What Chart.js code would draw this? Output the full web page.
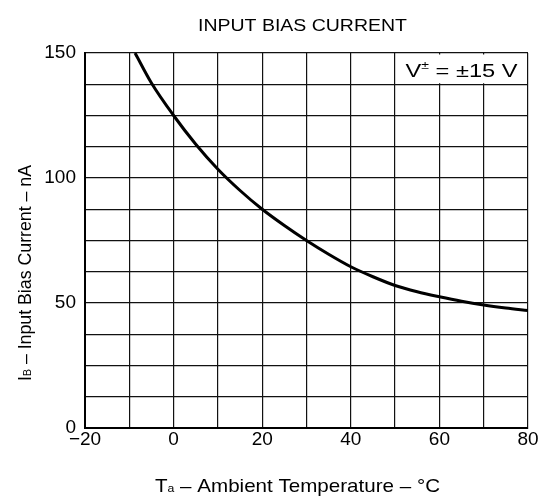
<!DOCTYPE html>
<html>
<head>
<meta charset="utf-8">
<script src="https://cdn.jsdelivr.net/npm/chart.js@4.4.1/dist/chart.umd.min.js"></script>
<style>
  html, body { margin: 0; padding: 0; background: #fff; }
  #wrap { width: 541px; height: 501px; }
</style>
</head>
<body>
<div id="wrap"><canvas id="bias-chart"></canvas></div>
<script>
// Input bias current vs ambient temperature
const temps = [-8.7, -5, 0, 5, 10, 15, 20, 25, 30, 35, 40, 45, 50, 55, 60, 65, 70, 75, 80];
const biasNA = [150, 138, 125, 113.5, 103.5, 95, 87.5, 81, 75, 69.5, 64.5, 60.5, 57, 54.5, 52.5, 50.7, 49.2, 48, 47];

const xTicks = [-20, 0, 20, 40, 60, 80];
const yTicks = [0, 50, 100, 150];

const FONT = '"Liberation Sans", Arial, Helvetica, sans-serif';

// draw a run of [text, size, dy] parts centred at 0, squeezed/stretched to a width
function drawParts(ctx, parts, width) {
    let total = 0;
    const ws = parts.map(p => {
        ctx.font = p[1] + 'px ' + FONT;
        const w = ctx.measureText(p[0]).width;
        total += w;
        return w;
    });
    ctx.scale(width / total, 1);
    let x = -total / 2;
    ctx.textAlign = 'left';
    ctx.textBaseline = 'alphabetic';
    parts.forEach((p, i) => {
        ctx.font = p[1] + 'px ' + FONT;
        ctx.fillText(p[0], x, p[2] || 0);
        x += ws[i];
    });
}

const annotations = {
    id: 'annotations',
    afterDraw(chart) {
        const ctx = chart.ctx;
        const xs = chart.scales.x, ys = chart.scales.y;
        ctx.save();
        ctx.fillStyle = '#000';

        // title
        ctx.save();
        ctx.translate(302.5, 31);
        drawParts(ctx, [['INPUT BIAS CURRENT', 16]], 209);
        ctx.restore();

        // x axis title
        ctx.save();
        ctx.translate(297.5, 492);
        drawParts(ctx, [['T', 18.5], ['a', 11], [' \u2013 Ambient Temperature \u2013 \u00b0C', 18.5]], 285);
        ctx.restore();

        // y axis title
        ctx.save();
        ctx.translate(31, 273);
        ctx.rotate(-Math.PI / 2);
        drawParts(ctx, [['I', 18.5], ['B', 11], [' \u2013 Input Bias Current \u2013 nA', 18.5]], 216);
        ctx.restore();

        // condition box in the top right cells
        const l = xs.getPixelForValue(50), r = xs.getPixelForValue(80);
        const top = ys.getPixelForValue(150), bot = ys.getPixelForValue(137.5);
        ctx.fillStyle = '#fff';
        ctx.fillRect(l + 1, top + 1.5, r - l - 2.5, bot - top - 2.5);
        ctx.fillStyle = '#000';
        ctx.save();
        ctx.translate(461.5, 77);
        drawParts(ctx, [['V', 18.5], ['\u00b1', 11, -8], [' = \u00b115 V', 18.5]], 112);
        ctx.restore();
        ctx.restore();
    }
};

new Chart(document.getElementById('bias-chart'), {
    type: 'scatter',
    data: {
        datasets: [{
            label: 'IB',
            data: temps.map((t, i) => ({ x: t, y: biasNA[i] })),
            showLine: true,
            borderColor: '#000',
            borderWidth: 3,
            pointRadius: 0,
            cubicInterpolationMode: 'monotone'
        }]
    },
    options: {
        responsive: true,
        maintainAspectRatio: false,
        animation: false,
        layout: { padding: { top: 53, right: 13, left: 0, bottom: 0 } },
        plugins: {
            legend: { display: false },
            title: { display: false },
            tooltip: { enabled: false }
        },
        scales: {
            x: {
                type: 'linear',
                min: -20,
                max: 80,
                afterFit: s => { s.height = 73; },
                afterBuildTicks: s => {
                    s.ticks = [];
                    for (let v = -20; v <= 80; v += 10) s.ticks.push({ value: v });
                },
                ticks: {
                    padding: 0,
                    color: '#000',
                    font: { family: FONT, size: 19 },
                    maxRotation: 0,
                    autoSkip: false,
                    callback: v => xTicks.includes(v) ? String(v).replace('-', '\u2212') : ''
                },
                grid: { color: '#111', lineWidth: 1.2, drawTicks: false },
                border: { color: '#000', width: 2 }
            },
            y: {
                type: 'linear',
                min: 0,
                max: 150,
                afterFit: s => { s.width = 85; },
                afterBuildTicks: s => {
                    s.ticks = [];
                    for (let v = 0; v <= 150; v += 12.5) s.ticks.push({ value: v });
                },
                ticks: {
                    padding: 9,
                    color: '#000',
                    font: { family: FONT, size: 19 },
                    autoSkip: false,
                    callback: v => yTicks.includes(v) ? String(v) : ''
                },
                grid: { color: '#111', lineWidth: 1.2, drawTicks: false },
                border: { color: '#000', width: 2 }
            }
        }
    },
    plugins: [annotations]
});
</script>
</body>
</html>
